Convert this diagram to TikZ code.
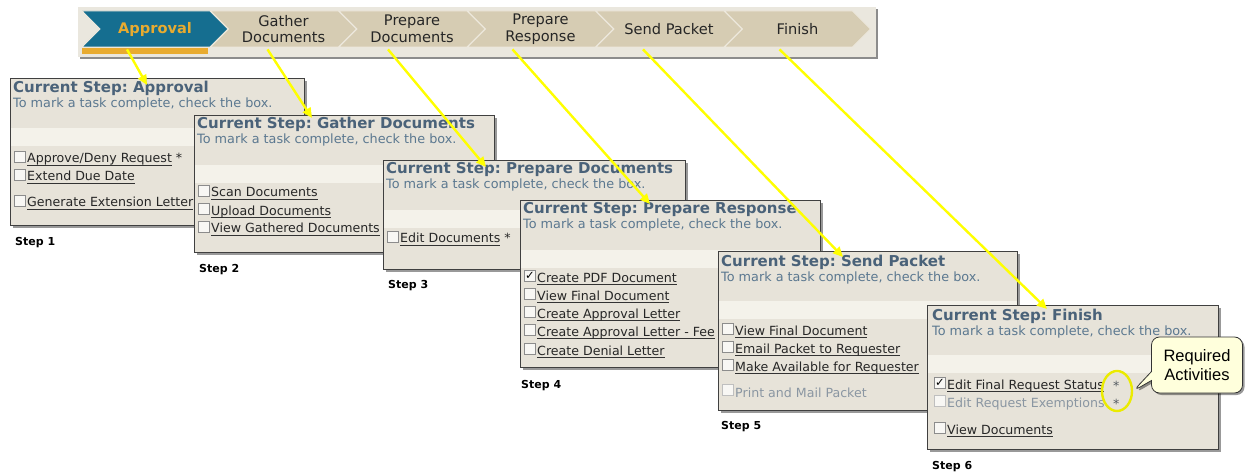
\documentclass[tikz,border=0pt]{standalone}
\usepackage{fontspec}
\setmainfont{DejaVu Sans}
\newfontfamily\notefont{Liberation Sans}
\usetikzlibrary{arrows.meta,positioning,calc,shadows,shapes.symbols,shapes.callouts,shapes.geometric}
\frenchspacing

\definecolor{panelbg}{HTML}{E7E3D9}
\definecolor{bandbg}{HTML}{F4F2EA}
\definecolor{barbg}{HTML}{EAE7DE}
\definecolor{stagebg}{HTML}{D6CCB3}
\definecolor{stageblue}{HTML}{156E90}
\definecolor{stageorange}{HTML}{E8AB30}
\definecolor{titleblue}{HTML}{4A6279}
\definecolor{hintblue}{HTML}{5B7890}
\definecolor{offgray}{HTML}{8A96A2}
\definecolor{markyellow}{HTML}{FFFF00}
\definecolor{notebg}{HTML}{FFFFDC}

% link text: rule a bit under the baseline
\newcommand\lnk[1]{\setbox0\hbox{#1}\rlap{\color{black!80}\rule[-2.5pt]{\wd0}{.8pt}}\box0\relax}

\begin{document}
\begin{tikzpicture}[x=1pt,y=-1pt,
  bar/.style={fill=barbg,anchor=north west,outer sep=0pt,inner sep=0pt,
              drop shadow={shadow xshift=2pt,shadow yshift=-2pt,opacity=.45,fill=black}},
  stage/.style={signal,signal from=west,signal to=east,fill=stagebg,
                draw=white!55!stagebg,line width=.8pt,minimum width=146,minimum height=36,
                inner sep=0pt,align=center,font=\fontsize{14.6}{16.5}\selectfont,text=black!85},
  panel/.style={draw=black!75,fill=panelbg,line width=.8pt,anchor=north west,outer sep=0pt,
                inner sep=0pt,drop shadow={shadow xshift=3pt,shadow yshift=-3pt,opacity=.4,fill=black}},
  band/.style={fill=bandbg},
  title/.style={anchor=base west,inner sep=0pt,text=titleblue,font=\fontsize{15}{17}\selectfont\bfseries},
  hint/.style={anchor=base west,inner sep=0pt,text=hintblue,font=\fontsize{12.8}{15}\selectfont},
  cbox/.style={draw=black!45,fill=white!70!panelbg,line width=.7pt,minimum size=11,
               inner sep=0pt,outer sep=1.5pt,yshift=2.4pt,font=\fontsize{11.5}{11.5}\selectfont},
  item/.style={anchor=base west,inner sep=0pt,text=black!85,font=\fontsize{12.6}{15}\selectfont,
               label={[cbox]left:{}}},
  done/.style={item,label={[cbox]left:{\raisebox{1pt}{✓}}}},
  off/.style={anchor=base west,inner sep=0pt,text=offgray,font=\fontsize{12.6}{15}\selectfont,
              label={[cbox,draw=black!25]left:{}}},
  star/.style={anchor=base west,inner sep=0pt,text=offgray!60!black,font=\fontsize{12.6}{15}\selectfont},
  steplbl/.style={anchor=base west,inner sep=0pt,font=\fontsize{11}{13}\selectfont\bfseries},
  pointer/.style={draw=markyellow,line width=2.4pt,-{Triangle[length=10pt,width=9pt]},
                  preaction={draw=black!35,transform canvas={xshift=.8pt,yshift=-.8pt}}},
  ring/.style={ellipse,draw=markyellow!92!black,line width=2.4pt,minimum width=30,minimum height=40,inner sep=0pt},
  note/.style={rectangle callout,draw=black!80,fill=notebg,rounded corners=8pt,line width=.8pt,
               minimum width=91,minimum height=56,align=center,callout pointer width=9pt,
               font=\notefont\fontsize{16.5}{19}\selectfont,
               drop shadow={shadow xshift=2pt,shadow yshift=-2pt,opacity=.4,fill=black}}]
\useasboundingbox (0,0) rectangle (1250,473);

% stage bar
\node[bar,minimum width=798,minimum height=50] (bar) at (78,7) {};
\node[stage,fill=stageblue,text=stageorange,font=\fontsize{14.6}{16.5}\selectfont\bfseries] (s1) at (155,29) {Approval};
\node[stage] (s2) at (283.5,29) {Gather\\Documents};
\node[stage] (s3) at (412,29) {Prepare\\Documents};
\node[stage] (s4) at (540.5,29) {Prepare\\Response};
\node[stage] (s5) at (669,29) {Send Packet};
\node[stage] (s6) at (797.5,29) {Finish};
\fill[stageorange] (82,48) rectangle (208,54);

% step 1
\node[panel,minimum width=294,minimum height=147] (p1) at (10,78) {};
\fill[band] ($(p1.north west)+(.5,50)$) rectangle ($(p1.north east)+(-.5,68)$);
\node[title] (t1) at ($(p1.north west)+(3,15)$) {Current Step: Approval};
\node[hint] at ($(p1.north west)+(3,30)$) {To mark a task complete, check the box.};
\node[item] (i11) at ($(p1.north west)+(17,85)$) {\lnk{Approve/Deny Request} *};
\node[item] (i12) at ($(p1.north west)+(17,103)$) {\lnk{Extend Due Date}};
\node[item] (i13) at ($(p1.north west)+(17,129)$) {\lnk{Generate Extension Letter}};
\node[steplbl] (l1) at ($(p1.south west)+(5,20)$) {Step 1};

% step 2
\node[panel,minimum width=300,minimum height=137] (p2) at (194,115) {};
\fill[band] ($(p2.north west)+(.5,50)$) rectangle ($(p2.north east)+(-.5,68)$);
\node[title] (t2) at ($(p2.north west)+(3,14)$) {Current Step: Gather Documents};
\node[hint] at ($(p2.north west)+(3,29)$) {To mark a task complete, check the box.};
\node[item] (i21) at ($(p2.north west)+(17,82)$) {\lnk{Scan Documents}};
\node[item] (i22) at ($(p2.north west)+(17,100)$) {\lnk{Upload Documents}};
\node[item] (i23) at ($(p2.north west)+(17,118)$) {\lnk{View Gathered Documents}};
\node[steplbl] (l2) at ($(p2.south west)+(5,20)$) {Step 2};

% step 3
\node[panel,minimum width=302,minimum height=109] (p3) at (383,160) {};
\fill[band] ($(p3.north west)+(.5,50)$) rectangle ($(p3.north east)+(-.5,68)$);
\node[title] (t3) at ($(p3.north west)+(3,14)$) {Current Step: Prepare Documents};
\node[hint] at ($(p3.north west)+(3,29)$) {To mark a task complete, check the box.};
\node[item] (i31) at ($(p3.north west)+(17,83)$) {\lnk{Edit Documents} *};
\node[steplbl] (l3) at ($(p3.south west)+(5,19)$) {Step 3};

% step 4
\node[panel,minimum width=300,minimum height=167] (p4) at (520,200) {};
\fill[band] ($(p4.north west)+(.5,50)$) rectangle ($(p4.north east)+(-.5,68)$);
\node[title] (t4) at ($(p4.north west)+(3,14)$) {Current Step: Prepare Response};
\node[hint] at ($(p4.north west)+(3,29)$) {To mark a task complete, check the box.};
\node[done] (i41) at ($(p4.north west)+(17,82)$) {\lnk{Create PDF Document}};
\node[item] (i42) at ($(p4.north west)+(17,100)$) {\lnk{View Final Document}};
\node[item] (i43) at ($(p4.north west)+(17,118)$) {\lnk{Create Approval Letter}};
\node[item] (i44) at ($(p4.north west)+(17,136)$) {\lnk{Create Approval Letter - Fee}};
\node[item] (i45) at ($(p4.north west)+(17,155)$) {\lnk{Create Denial Letter}};
\node[steplbl] (l4) at ($(p4.south west)+(1,21)$) {Step 4};

% step 5
\node[panel,minimum width=299,minimum height=159] (p5) at (718,251) {};
\fill[band] ($(p5.north west)+(.5,50)$) rectangle ($(p5.north east)+(-.5,68)$);
\node[title] (t5) at ($(p5.north west)+(3,15)$) {Current Step: Send Packet};
\node[hint] at ($(p5.north west)+(3,30)$) {To mark a task complete, check the box.};
\node[item] (i51) at ($(p5.north west)+(17,84)$) {\lnk{View Final Document}};
\node[item] (i52) at ($(p5.north west)+(17,102)$) {\lnk{Email Packet to Requester}};
\node[item] (i53) at ($(p5.north west)+(17,120)$) {\lnk{Make Available for Requester}};
\node[off] (i54) at ($(p5.north west)+(17,146)$) {Print and Mail Packet};
\node[steplbl] (l5) at ($(p5.south west)+(3,19)$) {Step 5};

% step 6
\node[panel,minimum width=291,minimum height=144] (p6) at (927,305) {};
\fill[band] ($(p6.north west)+(.5,50)$) rectangle ($(p6.north east)+(-.5,68)$);
\node[title] (t6) at ($(p6.north west)+(5,15)$) {Current Step: Finish};
\node[hint] at ($(p6.north west)+(5,30)$) {To mark a task complete, check the box.};
\node[done] (i61) at ($(p6.north west)+(20,84)$) {\lnk{Edit Final Request Status}};
\node[off] (i62) at ($(p6.north west)+(20,102)$) {Edit Request Exemptions};
\node[star] (r1) at ($(p6.north west)+(186,85)$) {*};
\node[star] (r2) at ($(p6.north west)+(186,103)$) {*};
\node[item] (i63) at ($(p6.north west)+(20,129)$) {\lnk{View Documents}};
\node[steplbl] (l6) at ($(p6.south west)+(5,20)$) {Step 6};

% required activities
\node[ring] (ell) at (1117,391) {};
\node[note,callout absolute pointer={(ell.east)}] (req) at (1197,365) {Required\\Activities};

% yellow pointers from stage to step
\coordinate (a1) at ($(s1.south)+(-28,2)$);
\coordinate (a2) at ($(s2.south)+(-16,2)$);
\coordinate (a3) at ($(s3.south)+(-24,2)$);
\coordinate (a4) at ($(s4.south)+(-28,2)$);
\coordinate (a5) at ($(s5.south)+(-26,2)$);
\coordinate (a6) at ($(s6.south)+(-18,2)$);
\coordinate (e1) at ($(p1.north west)+(137,7)$);
\coordinate (e2) at ($(p2.north west)+(118,3)$);
\coordinate (e3) at ($(p3.north west)+(103,7)$);
\coordinate (e4) at ($(p4.north west)+(130,4)$);
\coordinate (e5) at ($(p5.north west)+(125,6)$);
\coordinate (e6) at ($(p6.north west)+(120,4)$);
\draw[pointer] (a1) -- (e1);
\draw[pointer] (a2) -- (e2);
\draw[pointer] (a3) -- (e3);
\draw[pointer] (a4) -- (e4);
\draw[pointer] (a5) -- (e5);
\draw[pointer] (a6) -- (e6);
\end{tikzpicture}
\end{document}
